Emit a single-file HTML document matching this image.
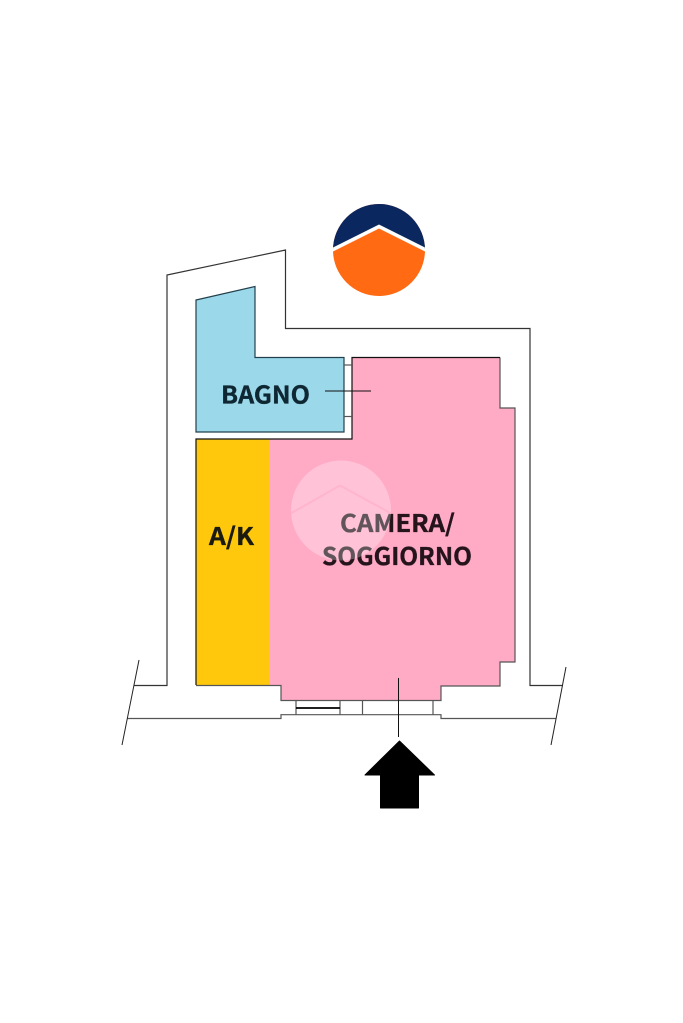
<!DOCTYPE html>
<html>
<head>
<meta charset="utf-8">
<style>
html,body{margin:0;padding:0;background:#fff}
svg{display:block}
text{font-family:"Noto Sans CJK JP","Liberation Sans",sans-serif;font-weight:700;font-size:24px;stroke-width:.35px;paint-order:stroke}
</style>
</head>
<body>
<svg width="683" height="1023" viewBox="0 0 683 1023" xmlns="http://www.w3.org/2000/svg">
<rect width="683" height="1023" fill="#fff"/>
<!-- rooms -->
<polygon points="352,357.5 500,357.5 500,408 515,408 515,662 500,662 500,686 441,686 441,700.5 281,700.5 281,685 270,685 270,439 352,439" fill="#ffabc6"/>
<rect x="196" y="439" width="74" height="246" fill="#ffc80c"/>
<polygon points="196,300 255,286.500 255,357.500 344,357.500 344,432 196,432" fill="#9bd8ea"/>
<!-- walls -->
<g fill="none" stroke="#555" stroke-width="1.200">
<polyline points="134,685.500 167,685.500 167,275 285.500,250 285.500,328.500 530,328.500 530,685.500 563,685.500" stroke="#333"/>
<polyline points="127,718.500 281,718.500 281,714.700 441,714.700 441,718.500 556,718.500"/>
<polyline points="270,685.500 281,685.500 281,700.500 441,700.500 441,686 500,686 500,662 515,662 515,408 500,408 500,357.500"/>
<line x1="196" y1="685.500" x2="270" y2="685.500"/>
<polyline points="196,685 196,439 352,439 352,357.500 500,357.500" stroke="#111"/>
<polygon points="196,300 255,286.500 255,357.500 344,357.500 344,432 196,432" stroke="#23404c"/>
<line x1="296" y1="700.500" x2="296" y2="715"/>
<line x1="340" y1="700.500" x2="340" y2="715"/>
<line x1="362.500" y1="700.500" x2="362.500" y2="715"/>
<line x1="433" y1="700.500" x2="433" y2="715"/>
<line x1="344" y1="365" x2="352" y2="365"/>
<line x1="344" y1="416.500" x2="352" y2="416.500"/>
</g>
<line x1="296" y1="708" x2="340" y2="708" stroke="#000" stroke-width="1.800"/>
<!-- break lines -->
<line x1="139" y1="660" x2="122" y2="745" stroke="#222" stroke-width="1"/>
<line x1="566" y1="667" x2="551" y2="745" stroke="#222" stroke-width="1"/>
<!-- leader lines -->
<line x1="325" y1="391" x2="371" y2="391" stroke="#111" stroke-width="1"/>
<line x1="398.500" y1="678" x2="398.500" y2="737" stroke="#111" stroke-width="1"/>
<!-- arrow -->
<polygon points="399.500,741 434.500,775 418.500,775 418.500,808 380.500,808 380.500,775 365,775" fill="#000" stroke="#000" stroke-width="1" stroke-linejoin="round"/>
<!-- labels -->
<text x="221" y="403.500" textLength="89" lengthAdjust="spacingAndGlyphs" fill="#0f2733" stroke="#0f2733">BAGNO</text>
<text x="209" y="545" textLength="45" lengthAdjust="spacingAndGlyphs" fill="#1b1a10" stroke="#1b1a10">A/K</text>
<text x="340" y="532" textLength="115" lengthAdjust="spacingAndGlyphs" fill="#25141c" stroke="#25141c">CAMERA/</text>
<text x="322" y="565" textLength="150" lengthAdjust="spacingAndGlyphs" fill="#25141c" stroke="#25141c">SOGGIORNO</text>
<!-- watermark -->
<defs>
<clipPath id="w"><circle cx="341" cy="510.500" r="50"/></clipPath>
<clipPath id="c"><circle cx="379" cy="250" r="46"/></clipPath>
</defs>
<circle cx="341" cy="510.500" r="50" fill="#fff" fill-opacity=".28"/>
<polyline clip-path="url(#w)" points="288,515 340,485.500 394,515" fill="none" stroke="#ffabc6" stroke-opacity=".55" stroke-width="2"/>
<!-- logo -->
<g clip-path="url(#c)">
<rect x="333" y="204" width="92" height="92" fill="#ff6a13"/>
<polygon points="330,204 428,204 428,251 379,226 330,251" fill="#0a2760"/>
<polyline points="330,251 379,226.500 428,251" fill="none" stroke="#fff" stroke-width="3.500"/>
</g>
</svg>
</body>
</html>
